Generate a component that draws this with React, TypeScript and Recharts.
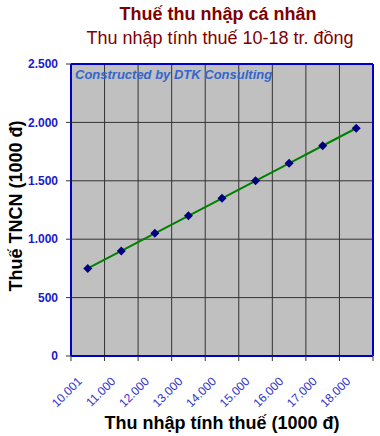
import { LineChart, Line, XAxis, YAxis, CartesianGrid, ReferenceLine } from 'recharts';

const categories = ['10.001', '11.000', '12.000', '13.000', '14.000', '15.000', '16.000', '17.000', '18.000'];
const taxValues = [750, 900, 1050, 1200, 1350, 1500, 1650, 1800, 1950];
const yTicks = [0, 500, 1000, 1500, 2000, 2500];

const FONT = '"Liberation Sans", Arial, sans-serif';
const W = 380;
const H = 436;
const PLOT_LEFT = 71;
const PLOT_RIGHT = 7;
const bandWidth = (W - PLOT_LEFT - PLOT_RIGHT) / categories.length;

const data = categories.map((label, i) => ({ pos: i + 0.5, label, tax: taxValues[i] }));
const xTicks = categories.map((_, i) => i).concat(categories.length);

const fmt = (v: number) => v.toLocaleString('de-DE');

const Diamond = (props: any) => {
    const { cx, cy, index } = props;
    if (cx == null || cy == null) return null;
    const r = 4.5;
    return (
        <polygon
            key={`d-${index}`}
            points={`${cx},${cy - r} ${cx + r},${cy} ${cx},${cy + r} ${cx - r},${cy}`}
            fill="#000080"
        />
    );
};

const XTick = (props: any) => {
    const { x, y, payload } = props;
    const label = categories[payload.value];
    if (!label) return null;
    const ax = x + bandWidth / 2 - 5;
    const ay = y + 19;
    return (
        <text
            x={ax}
            y={ay}
            textAnchor="end"
            transform={`rotate(-45, ${ax}, ${ay})`}
            fill="#3333CC"
            fontSize={12}
            fontFamily={FONT}
        >
            {label}
        </text>
    );
};

export default function App() {
    return (
        <div style={{ position: 'absolute', left: 0, top: 0, width: W, height: H, background: '#fff', fontFamily: FONT }}>
            <LineChart width={W} height={H} data={data} margin={{ top: 64, right: PLOT_RIGHT, left: 0, bottom: 0 }}>
                <CartesianGrid stroke="#333" strokeWidth={1} fill="#C0C0C0" fillOpacity={1} />
                <XAxis
                    dataKey="pos"
                    type="number"
                    domain={[0, categories.length]}
                    ticks={xTicks}
                    interval={0}
                    height={80}
                    stroke="#0000CC"
                    strokeWidth={2}
                    tickSize={5}
                    tickLine={{ stroke: '#333', strokeWidth: 1 }}
                    tick={<XTick />}
                />
                <YAxis
                    domain={[0, 2500]}
                    ticks={yTicks}
                    interval={0}
                    width={PLOT_LEFT}
                    stroke="#0000CC"
                    strokeWidth={2}
                    tickSize={5}
                    tickMargin={8}
                    tickLine={{ stroke: '#333', strokeWidth: 1 }}
                    tickFormatter={fmt}
                    tick={{ fill: '#1A1ACC', fontSize: 12, fontWeight: 'bold', fontFamily: FONT }}
                />
                <ReferenceLine y={2500} stroke="#0000CC" strokeWidth={2} />
                <ReferenceLine x={categories.length} stroke="#0000CC" strokeWidth={2} />
                <Line
                    dataKey="tax"
                    stroke="#008000"
                    strokeWidth={2}
                    dot={<Diamond />}
                    activeDot={false}
                    isAnimationActive={false}
                />
            </LineChart>

            <div style={{ position: 'absolute', top: 4, left: 0, width: W, paddingLeft: 56, boxSizing: 'border-box', textAlign: 'center', color: '#800000', fontSize: 18, fontWeight: 'bold', whiteSpace: 'nowrap' }}>
                Thuế thu nhập cá nhân
            </div>
            <div style={{ position: 'absolute', top: 28, left: 0, width: W, paddingLeft: 60, boxSizing: 'border-box', textAlign: 'center', color: '#800000', fontSize: 18, whiteSpace: 'nowrap' }}>
                Thu nhập tính thuế 10-18 tr. đồng
            </div>
            <div style={{ position: 'absolute', top: 67, left: 75, color: '#3366CC', fontSize: 13, fontWeight: 'bold', fontStyle: 'italic', whiteSpace: 'nowrap' }}>
                Constructed by DTK Consulting
            </div>
            <div style={{ position: 'absolute', top: 206, left: 16, transform: 'translate(-50%, -50%) rotate(-90deg)', color: '#000', fontSize: 18, fontWeight: 'bold', whiteSpace: 'nowrap' }}>
                Thuế TNCN (1000 đ)
            </div>
            <div style={{ position: 'absolute', top: 413, left: 222, transform: 'translateX(-50%)', color: '#000', fontSize: 18, fontWeight: 'bold', whiteSpace: 'nowrap' }}>
                Thu nhập tính thuế (1000 đ)
            </div>
        </div>
    );
}
